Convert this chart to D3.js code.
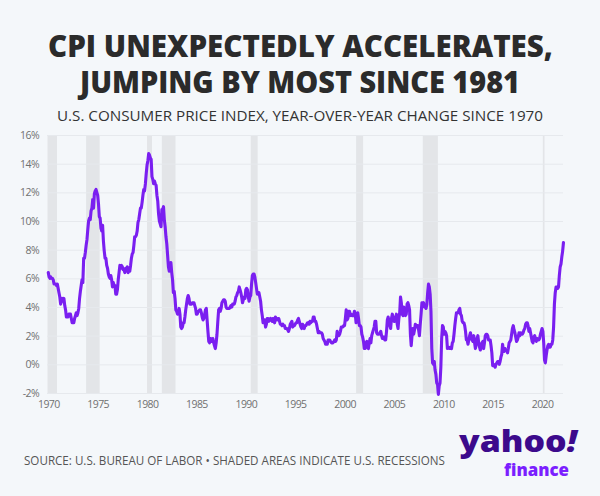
<!DOCTYPE html>
<html>
<head>
<meta charset="utf-8">
<script src="https://cdn.jsdelivr.net/npm/d3@7"></script>
<style>
  body { margin: 0; background: #f4f7fa; }
  svg { display: block; }
</style>
</head>
<body>
<div id="chart"></div>
<script>
// monthly CPI-U year-over-year change (%), starting Jan 1970
const cpi1970s = [
  6.4, 6.1, 6.0, 6.1, 6.0, 6.0, 5.9, 5.6, 5.6, 5.6, 5.5, 5.6,
  5.3, 5.0, 4.7, 4.2, 4.4, 4.6, 4.4, 4.6, 4.1, 3.8, 3.3, 3.3,
  3.3, 3.5, 3.5, 3.5, 3.2, 2.9, 2.9, 2.9, 3.2, 3.4, 3.6, 3.4,
  3.6, 3.9, 4.6, 5.1, 5.5, 5.9, 5.7, 7.4, 7.4, 7.8, 8.3, 8.7,
  9.4, 10.0, 10.2, 10.1, 10.7, 10.9, 11.5, 10.9, 11.9, 12.1, 12.2, 12.0,
  11.8, 11.2, 10.3, 10.2, 9.5, 9.3, 9.7, 8.6, 7.9, 7.4, 7.4, 6.9,
  6.7, 6.3, 6.1, 6.0, 6.2, 5.9, 5.4, 5.7, 5.5, 5.5, 4.9, 4.9,
  5.2, 5.9, 6.4, 6.9, 6.7, 6.9, 6.8, 6.6, 6.6, 6.4, 6.7, 6.7,
  6.8, 6.4, 6.6, 6.5, 6.9, 7.4, 7.7, 7.8, 8.3, 8.9, 8.9, 9.0,
  9.3, 9.9, 10.1, 10.5, 10.9, 10.9, 11.3, 11.8, 12.2, 12.1, 12.6, 13.3
];
const cpi1980s = [
  13.9, 14.2, 14.7, 14.6, 14.4, 14.3, 13.1, 12.9, 12.6, 12.8, 12.6, 12.5,
  11.8, 11.4, 10.5, 10.0, 9.8, 9.6, 10.8, 10.8, 11.0, 10.1, 9.6, 8.9,
  8.4, 7.6, 6.8, 6.5, 6.7, 7.1, 6.4, 5.9, 5.0, 5.1, 4.6, 3.8,
  3.7, 3.5, 3.6, 3.9, 3.5, 2.6, 2.5, 2.6, 2.9, 2.9, 3.3, 3.8,
  4.2, 4.6, 4.8, 4.6, 4.2, 4.2, 4.2, 4.3, 4.3, 4.3, 4.1, 3.9,
  3.5, 3.5, 3.7, 3.7, 3.8, 3.8, 3.6, 3.3, 3.1, 3.2, 3.5, 3.8,
  3.9, 3.1, 2.3, 1.6, 1.5, 1.8, 1.6, 1.6, 1.8, 1.5, 1.3, 1.1,
  1.5, 2.1, 3.0, 3.8, 3.9, 3.7, 3.9, 4.3, 4.4, 4.5, 4.5, 4.4,
  4.0, 3.9, 3.9, 3.9, 3.9, 4.0, 4.1, 4.0, 4.2, 4.2, 4.2, 4.4,
  4.7, 4.8, 5.0, 5.1, 5.4, 5.2, 5.0, 4.7, 4.3, 4.5, 4.7, 4.6
];
const cpi1990s = [
  5.2, 5.3, 5.2, 4.7, 4.4, 4.7, 4.8, 5.6, 6.2, 6.3, 6.3, 6.1,
  5.7, 5.3, 4.9, 4.9, 5.0, 4.7, 4.4, 3.8, 3.4, 2.9, 3.0, 3.1,
  2.6, 2.8, 3.2, 3.2, 3.0, 3.1, 3.2, 3.1, 3.0, 3.2, 3.0, 2.9,
  3.3, 3.2, 3.1, 3.2, 3.2, 3.0, 2.8, 2.8, 2.7, 2.8, 2.7, 2.7,
  2.5, 2.5, 2.5, 2.4, 2.3, 2.5, 2.8, 2.9, 3.0, 2.6, 2.7, 2.7,
  2.8, 2.9, 2.9, 3.1, 3.2, 3.0, 2.8, 2.6, 2.5, 2.8, 2.6, 2.5,
  2.7, 2.7, 2.8, 2.9, 2.9, 2.8, 3.0, 2.9, 3.0, 3.0, 3.3, 3.3,
  3.0, 3.0, 2.8, 2.5, 2.2, 2.3, 2.2, 2.2, 2.2, 2.1, 1.8, 1.7,
  1.6, 1.4, 1.4, 1.4, 1.7, 1.7, 1.7, 1.6, 1.5, 1.5, 1.5, 1.6,
  1.7, 1.6, 1.7, 2.3, 2.1, 2.0, 2.1, 2.3, 2.6, 2.6, 2.6, 2.7
];
const cpi2000s = [
  2.7, 3.2, 3.8, 3.1, 3.2, 3.7, 3.7, 3.4, 3.5, 3.4, 3.4, 3.4,
  3.7, 3.5, 2.9, 3.3, 3.6, 3.2, 2.7, 2.7, 2.6, 2.1, 1.9, 1.6,
  1.1, 1.1, 1.5, 1.6, 1.2, 1.1, 1.5, 1.8, 1.5, 2.0, 2.2, 2.4,
  2.6, 3.0, 3.0, 2.2, 2.1, 2.1, 2.1, 2.2, 2.3, 2.0, 1.8, 1.9,
  1.9, 1.7, 1.7, 2.3, 3.1, 3.3, 3.0, 2.7, 2.5, 3.2, 3.5, 3.3,
  3.0, 3.0, 3.1, 3.5, 2.8, 2.5, 3.2, 3.6, 4.7, 4.3, 3.5, 3.4,
  4.0, 3.6, 3.4, 3.5, 4.2, 4.3, 4.1, 3.8, 2.1, 1.3, 2.0, 2.5,
  2.1, 2.4, 2.8, 2.6, 2.7, 2.7, 2.4, 2.0, 2.8, 3.5, 4.3, 4.1,
  4.3, 4.0, 4.0, 3.9, 4.2, 5.0, 5.6, 5.4, 4.9, 3.7, 1.1, 0.1,
  0.0, 0.2, -0.4, -0.7, -1.3, -1.4, -2.1, -1.5, -1.3, -0.2, 1.8, 2.7
];
const cpi2010s = [
  2.6, 2.1, 2.3, 2.2, 2.0, 1.1, 1.2, 1.1, 1.1, 1.2, 1.1, 1.5,
  1.6, 2.1, 2.7, 3.2, 3.6, 3.6, 3.6, 3.8, 3.9, 3.5, 3.4, 3.0,
  2.9, 2.9, 2.7, 2.3, 1.7, 1.7, 1.4, 1.7, 2.0, 2.2, 1.8, 1.7,
  1.6, 2.0, 1.5, 1.1, 1.4, 1.8, 2.0, 1.5, 1.2, 1.0, 1.2, 1.5,
  1.6, 1.1, 1.5, 2.0, 2.1, 2.1, 2.0, 1.7, 1.7, 1.7, 1.3, 0.8,
  -0.1, 0.0, -0.1, -0.2, 0.0, 0.1, 0.2, 0.2, 0.0, 0.2, 0.5, 0.7,
  1.4, 1.0, 0.9, 1.1, 1.0, 1.0, 0.8, 1.1, 1.5, 1.6, 1.7, 2.1,
  2.5, 2.7, 2.4, 2.2, 1.9, 1.6, 1.7, 1.9, 2.2, 2.0, 2.2, 2.1,
  2.1, 2.2, 2.4, 2.5, 2.8, 2.9, 2.9, 2.7, 2.3, 2.5, 2.2, 1.9,
  1.6, 1.5, 1.9, 2.0, 1.8, 1.6, 1.8, 1.7, 1.7, 1.8, 2.1, 2.3
];
const cpi2020s = [
  2.5, 2.3, 1.5, 0.3, 0.1, 0.6, 1.0, 1.3, 1.4, 1.2, 1.2, 1.4,
  1.4, 1.7, 2.6, 4.2, 5.0, 5.4, 5.4, 5.3, 5.4, 6.2, 6.8, 7.0,
  7.5, 7.9, 8.5
];

// NBER recessions [start, end] in decimal years
const recessions = [
  [1969.92, 1970.88], [1973.83, 1975.2], [1980.0, 1980.5], [1981.5, 1982.88],
  [1990.5, 1991.2], [2001.17, 2001.88], [2007.92, 2009.45], [2020.08, 2020.25]
];

const yTicks = [-2, 0, 2, 4, 6, 8, 10, 12, 14, 16];
const xTicks = [1970, 1975, 1980, 1985, 1990, 1995, 2000, 2005, 2010, 2015, 2020];

const series = [].concat(cpi1970s, cpi1980s, cpi1990s, cpi2000s, cpi2010s, cpi2020s)
  .map((v, i) => ({ t: 1970 + i / 12, v: v }));

const W = 600, H = 496;
const svg = d3.select("#chart").append("svg").attr("width", W).attr("height", H);
svg.append("rect").attr("width", W).attr("height", H).attr("fill", "#f4f7fa");

const x = d3.scaleLinear().domain([1969.87, 2022.12]).range([47, 563]);
const y = d3.scaleLinear().domain([-2, 16]).range([393, 135]);

// recession bands
svg.append("g").selectAll("rect").data(recessions).join("rect")
  .attr("x", d => x(d[0]))
  .attr("width", d => Math.max(1.5, x(d[1]) - x(d[0])))
  .attr("y", y(16))
  .attr("height", y(-2) - y(16))
  .attr("fill", "#e3e5e8");

// grid + y labels
const yAxis = svg.append("g").attr("transform", "translate(47,0)")
  .call(d3.axisLeft(y).tickValues(yTicks).tickSize(-516).tickPadding(8).tickFormat(d => d + "%"));
yAxis.select(".domain").remove();
yAxis.selectAll(".tick line").attr("stroke", "#e6e9ed");
yAxis.selectAll(".tick text")
  .attr("fill", "#707070").attr("font-family", "Open Sans").attr("font-size", 10.5)
  .attr("letter-spacing", "-0.6px");

// x labels
const xAxis = svg.append("g").attr("transform", "translate(0,393)")
  .call(d3.axisBottom(x).tickValues(xTicks).tickSize(0).tickPadding(8).tickFormat(d3.format("d")));
xAxis.select(".domain").remove();
xAxis.selectAll(".tick text")
  .attr("fill", "#707070").attr("font-family", "Open Sans").attr("font-size", 10.5)
  .attr("letter-spacing", "-0.6px");

// cpi line
const line = d3.line().x(d => x(d.t)).y(d => y(d.v));
svg.append("path").datum(series)
  .attr("d", line)
  .attr("fill", "none")
  .attr("stroke", "#7a1ff0")
  .attr("stroke-width", 3.1)
  .attr("stroke-linejoin", "round")
  .attr("stroke-linecap", "round");

// titles
svg.append("text").attr("x", 300.5).attr("y", 56.5).attr("text-anchor", "middle")
  .attr("font-family", "Open Sans").attr("font-weight", 800).attr("font-size", 30)
  .attr("fill", "#2b2b2b").attr("textLength", 505).attr("lengthAdjust", "spacingAndGlyphs")
  .text("CPI UNEXPECTEDLY ACCELERATES,");
svg.append("text").attr("x", 300).attr("y", 92.5).attr("text-anchor", "middle")
  .attr("font-family", "Open Sans").attr("font-weight", 800).attr("font-size", 30)
  .attr("fill", "#2b2b2b").attr("textLength", 440).attr("lengthAdjust", "spacingAndGlyphs")
  .text("JUMPING BY MOST SINCE 1981");
svg.append("text").attr("x", 300).attr("y", 121).attr("text-anchor", "middle")
  .attr("font-family", "Open Sans").attr("font-size", 14)
  .attr("fill", "#333").attr("textLength", 486).attr("lengthAdjust", "spacingAndGlyphs")
  .text("U.S. CONSUMER PRICE INDEX, YEAR-OVER-YEAR CHANGE SINCE 1970");

// footer
svg.append("text").attr("x", 24).attr("y", 464.5)
  .attr("font-family", "Open Sans").attr("font-size", 12.5)
  .attr("fill", "#555").attr("textLength", 421).attr("lengthAdjust", "spacingAndGlyphs")
  .text("SOURCE: U.S. BUREAU OF LABOR \u2022 SHADED AREAS INDICATE U.S. RECESSIONS");

// logo
const logo = svg.append("g");
logo.append("text").attr("x", 459).attr("y", 452)
  .attr("font-family", "Open Sans").attr("font-weight", 800).attr("font-size", 30)
  .attr("fill", "#3c0a8c").attr("textLength", 118).attr("lengthAdjust", "spacingAndGlyphs")
  .html('yahoo<tspan font-style="italic">!</tspan>');
logo.append("text").attr("x", 504).attr("y", 476)
  .attr("font-family", "Open Sans").attr("font-weight", 800).attr("font-size", 18)
  .attr("fill", "#7b1fff").attr("textLength", 65).attr("lengthAdjust", "spacingAndGlyphs")
  .text("finance");
</script>
</body>
</html>
